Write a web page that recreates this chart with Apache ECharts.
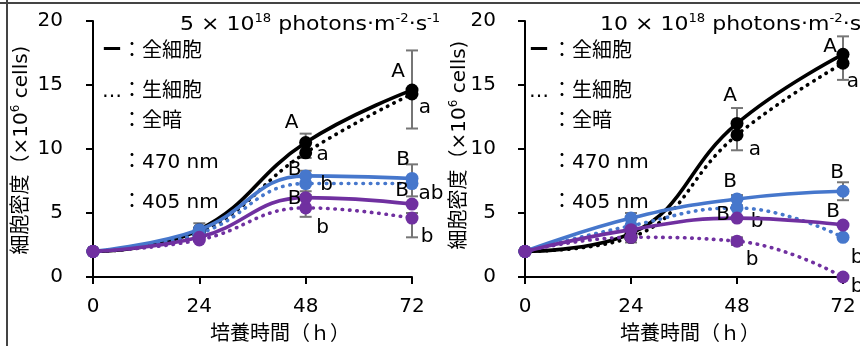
<!DOCTYPE html>
<html>
<head>
<meta charset="utf-8">
<script src="https://cdn.jsdelivr.net/npm/echarts@6/dist/echarts.min.js"></script>
<style>html,body{margin:0;padding:0;background:#fff;}#c{width:860px;height:346px;}</style>
</head>
<body>
<div id="c"></div>
<script>
// ---------- data ----------
const hours = [0, 24, 48, 72];
const yTicks = [0, 5, 10, 15, 20];

// Panel 1: 5 × 10^18 photons
const p5TotalDark = [2.0, 3.7, 10.5, 14.6];
const p5LiveDark  = [2.0, 3.5, 9.7, 14.3];
const p5Total470  = [2.0, 3.7, 7.9, 7.7];
const p5Live470   = [2.0, 3.4, 7.3, 7.3];
const p5Total405  = [2.0, 3.1, 6.2, 5.7];
const p5Live405   = [2.0, 2.9, 5.4, 4.6];
const p5LetTotalDark = ['', '', 'A', 'A'];
const p5LetLiveDark  = ['', '', 'a', 'a'];
const p5LetTotal470  = ['', '', 'B', 'B'];
const p5LetLive470   = ['', '', 'b', 'ab'];
const p5LetTotal405  = ['', '', 'B', 'B'];
const p5LetLive405   = ['', '', 'b', 'b'];
// [hour, low, high]
const p5Err = [[24, 3.3, 4.2], [48, 9.3, 11.2], [48, 6.7, 8.3], [48, 4.7, 6.4], [72, 11.6, 17.7], [72, 6.3, 8.8], [72, 3.1, 5.0]];

// Panel 2: 10 × 10^18 photons
const p10TotalDark = [2.0, 3.4, 12.0, 17.4];
const p10LiveDark  = [2.0, 3.1, 11.1, 16.7];
const p10Total470  = [2.0, 4.6, 6.1, 6.7];
const p10Live470   = [2.0, 4.0, 5.4, 3.1];
const p10Total405  = [2.0, 3.7, 4.6, 4.06];
const p10Live405   = [2.0, 3.1, 2.8, 0.0];
const p10LetTotalDark = ['', '', 'A', 'A'];
const p10LetLiveDark  = ['', '', 'a', 'a'];
const p10LetTotal470  = ['', '', 'B', 'B'];
const p10LetLive470   = ['', '', 'b', 'b'];
const p10LetTotal405  = ['', '', 'B', 'B'];
const p10LetLive405   = ['', '', 'b', 'b'];
const p10Err = [[24, 2.7, 5.0], [48, 9.9, 13.2], [48, 5.6, 6.4], [48, 2.5, 3.1], [72, 15.4, 18.8], [72, 6.0, 7.4]];

const titleP5 = ['5 × 10', '18', ' photons·m', '-2', '·s', '-1'];
const titleP10 = ['10 × 10', '18', ' photons·m', '-2', '·s', '-1'];
const yName = ['細胞密度（×10', '6', ' cells)'];
const xName = '培養時間（ｈ）';
const legendMarks = ['ー', '…'];
const legendTexts = ['：全細胞', '：生細胞', '：全暗', '：470 nm', '：405 nm'];

// ---------- styles ----------
const FONT = '"DejaVu Sans", "Noto Sans CJK JP", sans-serif';
const BLACK = '#000000', BLUE = '#4677cc', PURPLE = '#7030a0', ERR = '#767676';
// label offsets (pixels) per point
const OFF = {
  p5: {
    td: [null, null, [-14, -20], [-14, -18]],
    ld: [null, null, [17, 2], [13, 14]],
    t470: [null, null, [-11, -6], [-9, -19]],
    l470: [null, null, [21, 1], [19, 10]],
    t405: [null, null, [-11, 1], [-10, -13]],
    l405: [null, null, [17, 20], [15, 19]]
  },
  p10: {
    td: [null, null, [-7, -28], [-13, -7]],
    ld: [null, null, [18, 15], [10, 19]],
    t470: [null, null, [-7, -17], [-6, -18]],
    l470: [null, null, [20, 14], [14, 20]],
    t405: [null, null, [-14, -3], [-10, -13]],
    l405: [null, null, [15, 19], [14, 10]]
  }
};

function lineSeries(vals, letters, offs, color, dotted, idx, z) {
  return {
    type: 'line', xAxisIndex: idx, yAxisIndex: idx, smooth: 0.45,
    symbol: 'circle', symbolSize: 13, clip: false, animation: false, z: z,
    lineStyle: { color: color, width: 3.6, type: dotted ? [0.5, 6.8] : 'solid', cap: 'round' },
    itemStyle: { color: color },
    data: hours.map((h, i) => ({
      value: [h, vals[i]],
      label: letters[i] ? {
        show: true, formatter: letters[i], position: 'inside', offset: offs[i],
        color: '#000', fontSize: 20, fontFamily: FONT, align: 'center', verticalAlign: 'middle'
      } : { show: false }
    }))
  };
}

function errSeries(data, idx) {
  return {
    type: 'custom', xAxisIndex: idx, yAxisIndex: idx, z: 1, silent: true, clip: false, animation: false,
    encode: { x: 0, y: [1, 2] },
    data: data,
    renderItem: function (params, api) {
      const x = api.value(0);
      const p1 = api.coord([x, api.value(1)]);
      const p2 = api.coord([x, api.value(2)]);
      const w = 6;
      const st = { stroke: ERR, lineWidth: 2 };
      return {
        type: 'group', children: [
          { type: 'line', shape: { x1: p1[0], y1: p1[1], x2: p2[0], y2: p2[1] }, style: st },
          { type: 'line', shape: { x1: p1[0] - w, y1: p1[1], x2: p1[0] + w, y2: p1[1] }, style: st },
          { type: 'line', shape: { x1: p2[0] - w, y1: p2[1], x2: p2[0] + w, y2: p2[1] }, style: st }
        ]
      };
    }
  };
}

function xAxis(idx) {
  return {
    type: 'value', gridIndex: idx, min: 0, max: 72, interval: 24,
    axisLine: { show: true, lineStyle: { color: '#000', width: 2 } },
    axisTick: { show: true, inside: false, length: 7, lineStyle: { color: '#000', width: 2 } },
    axisLabel: { color: '#000', fontSize: 20, fontFamily: FONT, margin: 20 },
    splitLine: { show: false }
  };
}
function yAxis(idx, margin) {
  return {
    type: 'value', gridIndex: idx, min: yTicks[0], max: yTicks[yTicks.length - 1], interval: yTicks[1] - yTicks[0],
    axisLine: { show: true, lineStyle: { color: '#000', width: 2 } },
    axisTick: { show: true, inside: false, length: 7, lineStyle: { color: '#000', width: 2 } },
    axisLabel: { color: '#000', fontSize: 20, fontFamily: FONT, margin: margin },
    splitLine: { show: false }
  };
}

const richSup = {
  n: { fontSize: 20, fontFamily: FONT, lineHeight: 24, fill: '#000' },
  s: { fontSize: 12, fontFamily: FONT, lineHeight: 14, verticalAlign: 'top', fill: '#000' }
};
function supText(parts) {
  return parts.map((p, i) => (i % 2 === 0 ? '{n|' + p + '}' : '{s|' + p + '}')).join('');
}

function legendGraphics(markX, textX) {
  const ys = [52, 92, 122, 163, 203];
  const g = [];
  legendTexts.forEach((t, i) => {
    g.push({ type: 'text', x: textX, y: ys[i], style: { text: t, fontSize: 20, fontFamily: FONT, fill: '#000', align: 'left', verticalAlign: 'middle' } });
  });
  legendMarks.forEach((m, i) => {
    g.push({ type: 'text', x: markX, y: ys[i], style: { text: m, fontSize: 20, fontFamily: FONT, fill: '#000', align: 'left', verticalAlign: 'middle', fontWeight: i === 0 ? 'bold' : 'normal' } });
  });
  return g;
}

const chart = echarts.init(document.getElementById('c'), null, { renderer: 'canvas' });
chart.setOption({
  animation: false,
  backgroundColor: '#fff',
  grid: [
    { left: 93, top: 21, width: 319, height: 256 },
    { left: 525, top: 21, width: 318, height: 256 }
  ],
  xAxis: [xAxis(0), xAxis(1)],
  yAxis: [yAxis(0, 30), yAxis(1, 29)],
  series: [
    errSeries(p5Err, 0),
    lineSeries(p5LiveDark, p5LetLiveDark, OFF.p5.ld, BLACK, true, 0, 2),
    lineSeries(p5TotalDark, p5LetTotalDark, OFF.p5.td, BLACK, false, 0, 2),
    lineSeries(p5Live470, p5LetLive470, OFF.p5.l470, BLUE, true, 0, 3),
    lineSeries(p5Total470, p5LetTotal470, OFF.p5.t470, BLUE, false, 0, 3),
    lineSeries(p5Live405, p5LetLive405, OFF.p5.l405, PURPLE, true, 0, 4),
    lineSeries(p5Total405, p5LetTotal405, OFF.p5.t405, PURPLE, false, 0, 4),
    errSeries(p10Err, 1),
    lineSeries(p10LiveDark, p10LetLiveDark, OFF.p10.ld, BLACK, true, 1, 2),
    lineSeries(p10TotalDark, p10LetTotalDark, OFF.p10.td, BLACK, false, 1, 2),
    lineSeries(p10Live470, p10LetLive470, OFF.p10.l470, BLUE, true, 1, 3),
    lineSeries(p10Total470, p10LetTotal470, OFF.p10.t470, BLUE, false, 1, 3),
    lineSeries(p10Live405, p10LetLive405, OFF.p10.l405, PURPLE, true, 1, 4),
    lineSeries(p10Total405, p10LetTotal405, OFF.p10.t405, PURPLE, false, 1, 4)
  ],
  graphic: [
    { type: 'line', shape: { x1: 0, y1: 3, x2: 860, y2: 3 }, style: { stroke: '#444', lineWidth: 2 }, silent: true },
    { type: 'line', shape: { x1: 7, y1: 0, x2: 7, y2: 346 }, style: { stroke: '#444', lineWidth: 2 }, silent: true },
    { type: 'text', x: 180, y: 25, scaleX: 1.1, style: { text: supText(titleP5), rich: richSup, align: 'left', verticalAlign: 'middle' } },
    { type: 'text', x: 600, y: 25, scaleX: 1.1, style: { text: supText(titleP10), rich: richSup, align: 'left', verticalAlign: 'middle' } },
    { type: 'text', x: 22, y: 150, rotation: Math.PI / 2, style: { text: supText(yName), rich: richSup, align: 'center', verticalAlign: 'middle' } },
    { type: 'text', x: 460, y: 145, rotation: Math.PI / 2, style: { text: supText(yName), rich: richSup, align: 'center', verticalAlign: 'middle' } },
    { type: 'text', x: 280, y: 335, style: { text: xName, fontSize: 20, fontFamily: FONT, fill: '#000', align: 'center', verticalAlign: 'middle' } },
    { type: 'text', x: 690, y: 335, style: { text: xName, fontSize: 20, fontFamily: FONT, fill: '#000', align: 'center', verticalAlign: 'middle' } }
  ].concat(legendGraphics(102, 122)).concat(legendGraphics(529, 552))
});
</script>
</body>
</html>
